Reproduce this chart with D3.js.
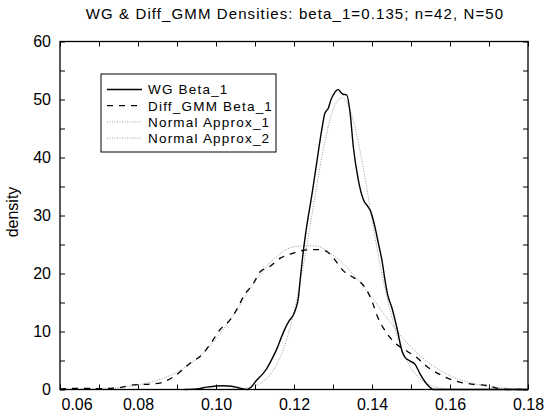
<!DOCTYPE html>
<html>
<head>
<meta charset="utf-8">
<script src="https://cdn.jsdelivr.net/npm/d3@7"></script>
<style>
  body { margin: 0; background: #fff; }
  text { font-family: "Liberation Sans", Arial, sans-serif; fill: #000; }
</style>
</head>
<body>
<div id="chart"></div>
<script>
// kernel density of the WG estimator of beta_1
var wgBeta1 = [[0.092,0],[0.095,0.1],[0.0976,0.4],[0.100,0.6],[0.102,0.65],[0.104,0.55],[0.1055,0.35],
  [0.107,0.1],[0.108,0],[0.109,0.4],[0.1104,1.6],[0.112,2.7],[0.113,3.6],[0.1143,5.2],[0.1156,7.0],
  [0.1167,8.9],[0.1177,10.5],[0.1187,11.8],[0.1198,12.8],[0.1205,14],[0.1211,15.7],[0.1216,19],
  [0.1222,22.8],[0.1229,26.5],[0.1237,30],[0.1245,33.2],[0.1258,39],[0.1271,44.7],[0.1279,47.6],
  [0.1288,48.5],[0.1295,50],[0.1301,50.8],[0.1308,51.5],[0.1314,51.7],[0.1320,51.2],[0.1326,50.9],
  [0.1335,50.8],[0.1344,47.6],[0.1352,41.9],[0.1365,36.1],[0.1378,32.7],[0.1390,31.5],[0.1396,30.8],
  [0.1408,27.9],[0.1417,25],[0.1426,22.1],[0.1433,19],[0.1440,16.4],[0.1451,14.1],[0.1464,10.6],
  [0.1477,6.6],[0.1485,5.5],[0.1498,4.9],[0.1511,4.3],[0.1524,2.6],[0.1541,0.9],[0.1558,0],[0.180,0]];

// kernel density of the first-difference GMM estimator
var gmmBeta1 = [[0.060,0.1],[0.065,0.2],[0.070,0.15],[0.075,0.3],[0.0788,0.8],[0.0825,0.9],[0.0856,1.1],
  [0.0891,2.2],[0.0933,4.5],[0.0967,6.2],[0.0990,8.3],[0.101,10.3],[0.1036,12],[0.1055,14],[0.107,16],
  [0.1096,18.3],[0.1113,20.3],[0.1138,21.2],[0.1164,22.6],[0.1198,23.5],[0.1217,23.9],[0.1243,24.1],
  [0.1265,24.1],[0.1281,23.9],[0.1302,22.6],[0.1326,20.5],[0.1355,19.2],[0.137,18.5],[0.1385,17.3],
  [0.140,15.2],[0.1415,12.4],[0.1438,9.7],[0.1463,7.8],[0.1490,6.6],[0.1515,5.5],[0.154,4.0],
  [0.1574,2.6],[0.1617,1.4],[0.1659,0.9],[0.1702,0.6],[0.1728,0.1],[0.176,0],[0.180,0]];

// normal approximations
var normal1 = [[0.102,0],[0.1047,0.06],[0.1072,0.19],[0.1097,0.56],[0.1122,1.44],[0.1147,3.3],
  [0.1172,6.8],[0.1197,12.5],[0.1222,20.7],[0.1247,30.5],[0.1272,40.3],[0.1297,47.6],[0.1322,50.3],
  [0.1347,47.6],[0.1372,40.3],[0.1397,30.5],[0.1422,21],[0.1447,13.5],[0.1472,7.8],[0.1497,4.0],
  [0.1522,1.9],[0.1547,0.8],[0.1572,0.25],[0.1597,0.08],[0.163,0]];

var normal2 = [[0.060,0.02],[0.065,0.06],[0.070,0.15],[0.075,0.36],[0.080,0.8],[0.085,1.6],[0.090,3.0],
  [0.095,5.3],[0.100,8.7],[0.105,13.4],[0.110,18.6],[0.115,22.6],[0.120,24.6],[0.125,24.8],[0.130,23.2],
  [0.135,20.0],[0.140,15.8],[0.145,11.3],[0.150,7.3],[0.155,4.4],[0.160,2.4],[0.165,1.2],[0.170,0.55],
  [0.175,0.22],[0.180,0.08]];

var seriesNames = ["WG Beta_1", "Diff_GMM Beta_1", "Normal Approx_1", "Normal Approx_2"];
var xTicks = d3.range(6, 19).map(function(d) { return d / 100; });
var yTicks = d3.range(0, 61, 5);
var titleText = "WG & Diff_GMM Densities: beta_1=0.135; n=42, N=50";

var W = 550, H = 416;
var plot = {left: 60, right: 528, top: 41.5, bottom: 389.5};

var svg = d3.select("#chart").append("svg")
    .attr("width", W).attr("height", H);

var x = d3.scaleLinear().domain([0.06, 0.18]).range([plot.left, plot.right]);
var y = d3.scaleLinear().domain([0, 60]).range([plot.bottom, plot.top]);

var styles = [
  {stroke: "#000", width: 1.4, dash: null},
  {stroke: "#000", width: 1.3, dash: "6,6"},
  {stroke: "#9a9a9a", width: 1, dash: "1,1.5"},
  {stroke: "#9a9a9a", width: 1, dash: "1,1.5"}
];

// title
svg.append("text")
    .attr("x", 295).attr("y", 19)
    .attr("text-anchor", "middle")
    .style("font-size", "15px")
    .style("letter-spacing", "1.1px")
    .text(titleText);

// y axis title
svg.append("text")
    .attr("transform", "translate(18,212) rotate(-90)")
    .attr("text-anchor", "middle")
    .style("font-size", "16px")
    .text("density");

var xFmt = function(d) {
  var k = Math.round(d * 100);
  return k % 2 === 0 ? d3.format(".2f")(d) : "";
};
var yFmt = function(d) { return d % 10 === 0 ? d : ""; };

var gx = svg.append("g")
    .attr("transform", "translate(0," + plot.bottom + ")")
    .call(d3.axisBottom(x).tickValues(xTicks).tickSize(-5).tickPadding(9).tickFormat(xFmt));
gx.selectAll("text").style("font-size", "16px");
gx.selectAll(".tick text").filter(function(d) { return Math.abs(d - 0.06) < 1e-9; })
    .attr("text-anchor", "start").attr("x", 1);

svg.append("g")
    .attr("transform", "translate(0," + plot.top + ")")
    .call(d3.axisTop(x).tickValues(xTicks).tickSize(-5).tickFormat(""));

var gy = svg.append("g")
    .attr("transform", "translate(" + plot.left + ",0)")
    .call(d3.axisLeft(y).tickValues(yTicks).tickSize(-5).tickPadding(9).tickFormat(yFmt));
gy.selectAll("text").style("font-size", "16px");

svg.append("g")
    .attr("transform", "translate(" + plot.right + ",0)")
    .call(d3.axisRight(y).tickValues(yTicks).tickSize(-5).tickFormat(""));

svg.selectAll(".domain").remove();
svg.selectAll(".tick line").attr("stroke", "#000");

// curves
var line = d3.line()
    .x(function(d) { return x(d[0]); })
    .y(function(d) { return y(d[1]); })
    .curve(d3.curveMonotoneX);

var data = [wgBeta1, gmmBeta1, normal1, normal2];
// dotted first so solid and dashed sit on top
[3, 2, 1, 0].forEach(function(i) {
  svg.append("path")
      .datum(data[i])
      .attr("d", line)
      .attr("fill", "none")
      .attr("stroke", styles[i].stroke)
      .attr("stroke-width", styles[i].width)
      .attr("stroke-dasharray", styles[i].dash);
});

// frame
svg.append("rect")
    .attr("x", plot.left).attr("y", plot.top)
    .attr("width", plot.right - plot.left).attr("height", plot.bottom - plot.top)
    .attr("fill", "none").attr("stroke", "#000").attr("stroke-width", 1.3);

// legend
var lg = svg.append("g").attr("transform", "translate(101,74)");
lg.append("rect")
    .attr("width", 175).attr("height", 78)
    .attr("fill", "#fff").attr("stroke", "#000").attr("stroke-width", 1);
seriesNames.forEach(function(name, i) {
  var yy = 15.5 + i * 16.2;
  lg.append("line")
      .attr("x1", 6).attr("x2", 41).attr("y1", yy).attr("y2", yy)
      .attr("stroke", styles[i].stroke)
      .attr("stroke-width", styles[i].width)
      .attr("stroke-dasharray", styles[i].dash);
  lg.append("text")
      .attr("x", 47).attr("y", yy)
      .attr("dy", "0.36em")
      .style("font-size", "13.5px")
      .style("letter-spacing", "1.2px")
      .text(name);
});
</script>
</body>
</html>
